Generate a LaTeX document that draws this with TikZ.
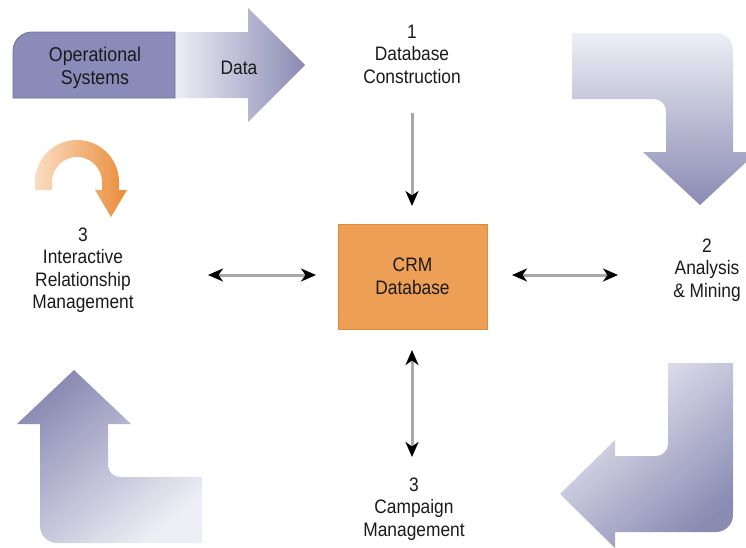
\documentclass[tikz,border=0pt]{standalone}
\usepackage{fontspec}
\setmainfont{Liberation Sans}[FakeStretch=0.89]
\usetikzlibrary{arrows.meta}
\definecolor{lavD}{HTML}{8B8BBA}
\definecolor{lavB}{HTML}{6F6F9C}
\definecolor{lavL}{HTML}{EEEEF6}
\definecolor{lavM}{HTML}{8A8AB3}
\definecolor{orL}{HTML}{FBDDC2}
\definecolor{orD}{HTML}{EA8C38}
\definecolor{crm}{HTML}{EC9F55}
\definecolor{crmB}{HTML}{E08A3C}
\definecolor{txt}{HTML}{1A1A1A}
\definecolor{lineg}{HTML}{A8A8A8}
\tikzset{
  lbl/.style={align=center, text=txt, inner sep=0pt, font=\fontsize{19.5}{22.5}\selectfont},
  conn/.style={draw=lineg, line width=3pt},
  hd/.tip={Stealth[black,length=15pt,width=13pt,inset=4.5pt]},
}
\begin{document}
\begin{tikzpicture}[x=1pt,y=-1pt]
\useasboundingbox (0,0) rectangle (746,547);

% top: Operational Systems + Data arrow
\shade[left color=lavL, right color=lavM]
  (175,32) -- (248,32) -- (248,8) -- (305,65) -- (248,122) -- (248,98) -- (175,98) -- cycle;
\path[fill=lavD, draw=lavB, line width=0.8pt]
  (175,32) -- (175,98) -- (13,98) -- (13,51)
  .. controls (13,40.5) and (21.5,32) .. (32,32) -- cycle;
\node[lbl, font=\fontsize{20}{22.5}\selectfont] (ops) at (95,68) {Operational\\Systems};
\node[lbl] (data) at (239,68) {Data};

% top-right arrow
\shade[top color=lavL, bottom color=lavM]
  (572,33) -- (716,33) .. controls (725.4,33) and (733,40.6) .. (733,50)
  -- (733,152) -- (757,152) -- (700,205) -- (643,152) -- (666,152)
  -- (666,111) .. controls (666,104.4) and (660.6,99) .. (654,99)
  -- (572,99) -- cycle;

% bottom-right arrow
\shade[top color=lavL, bottom color=lavM, shading angle=40]
  (668,363) -- (733,363) -- (733,515) .. controls (733,524.4) and (725.4,532) .. (716,532)
  -- (615,532) -- (615,548) -- (560,494) -- (615,440) -- (615,456)
  -- (656,456) .. controls (662.6,456) and (668,450.6) .. (668,444) -- cycle;

% bottom-left arrow
\shade[top color=lavM, bottom color=lavL, shading angle=40]
  (74,370) -- (131,424) -- (108,424) -- (108,465)
  .. controls (108,471.6) and (113.4,477) .. (120,477)
  -- (202,477) -- (202,543) -- (57,543)
  .. controls (47.6,543) and (40,535.4) .. (40,526)
  -- (40,424) -- (17,424) -- cycle;

% orange curved arrow
\shade[left color=orL, right color=orD]
  (35,190) -- (35,182) .. controls (35,158.8) and (53.8,140) .. (77,140)
  .. controls (100.2,140) and (119,158.8) .. (119,182) -- (119,190)
  -- (127,190) -- (111,217) -- (95,190) -- (102,190) -- (102,182)
  .. controls (102,168.2) and (90.8,157) .. (77,157)
  .. controls (63.2,157) and (52,168.2) .. (52,182) -- (52,190) -- cycle;

% CRM box
\node[draw=crmB, fill=crm, line width=0.8pt, minimum width=149pt, minimum height=105pt,
      inner sep=0pt, lbl] (crmdb) at (412.5,276.5) {CRM\\Database};

% labels
\node[lbl] (db1) at (412,54) {1\\Database\\Construction};
\node[lbl] (ana) at (707,270) {2\\Analysis\\\& Mining};
\node[lbl] (irm) at (83,270) {3\\Interactive\\Relationship\\Management};
\node[lbl] (camp) at (414,509) {3\\Campaign\\Management};

% connectors
\coordinate (ctop) at (412,113);
\coordinate (cl) at (208,275);
\coordinate (cr) at (618,275);
\coordinate (cb) at (412,457);
\coordinate (cl2) at (316,275);
\coordinate (cr2) at (512,275);
\coordinate (cb2) at (412,350);
\coordinate (ctop2) at (412,206);
\draw[conn, -hd] (ctop) -- (ctop2);
\draw[conn, hd-hd] (cl) -- (cl2);
\draw[conn, hd-hd] (cr2) -- (cr);
\draw[conn, hd-hd] (cb2) -- (cb);
\end{tikzpicture}
\end{document}
